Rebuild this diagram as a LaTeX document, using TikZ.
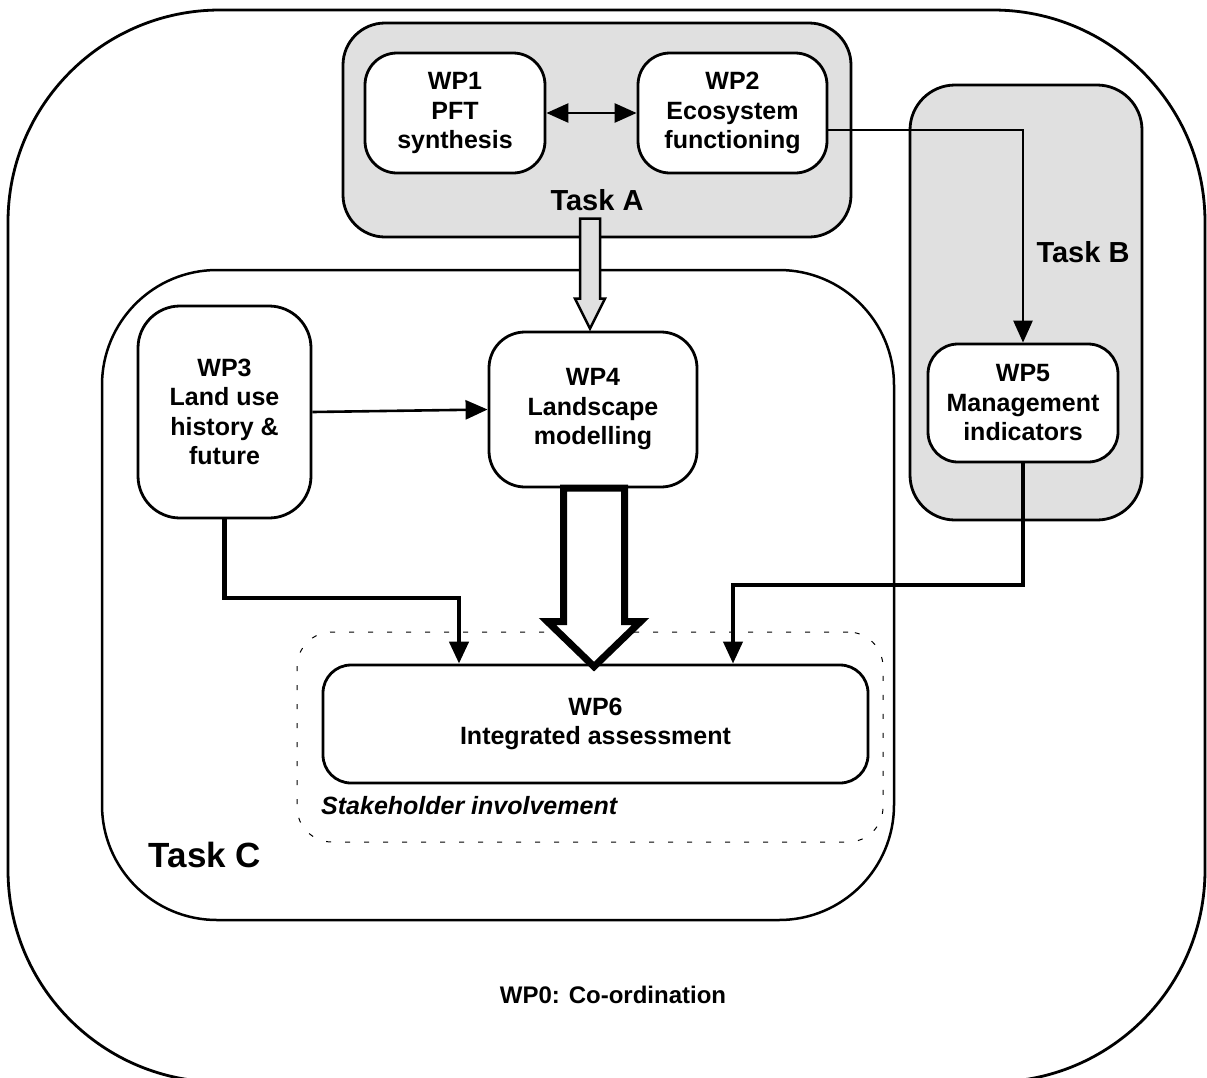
\documentclass[tikz,border=0pt]{standalone}
\usepackage{fontspec}
\setmainfont{Liberation Sans}
\usetikzlibrary{arrows.meta,calc}
\definecolor{taskgray}{HTML}{E0E0E0}
\newcommand\wpfont{\bfseries\fontsize{25}{29.5}\selectfont}
\newcommand\taskfont{\bfseries\fontsize{29}{34}\selectfont}
\begin{document}
\begin{tikzpicture}[x=1pt,y=-1pt,
  >={Triangle[length=22pt,width=19pt]},
  wp/.style={draw, line width=2.8pt, fill=white, rounded corners=32pt,
    align=center, inner sep=0pt, font=\wpfont},
  group/.style={draw, line width=2.8pt, fill=taskgray, inner sep=0pt},
  frame/.style={draw, line width=2.8pt, inner sep=0pt},
  link/.style={line width=2.6pt, ->},
  heavylink/.style={line width=4.4pt, ->}]
\useasboundingbox (0,0) rectangle (1207,1077);
\clip (0,0) rectangle (1207,1077);

% outer co-ordination frame and task areas
\node[frame, minimum width=1197pt, minimum height=1072pt, rounded corners=212pt] (wp0) at (606.5,546) {};
\node[frame, line width=2.5pt, minimum width=792pt, minimum height=650pt, rounded corners=115pt] (taskC) at (498,595) {};
\node[group, minimum width=508pt, minimum height=214pt, rounded corners=42pt] (taskA) at (597,130) {};
\node[group, minimum width=232pt, minimum height=435pt, rounded corners=45pt] (taskB) at (1026,302.5) {};
\node[draw, line width=1pt, dash pattern=on 5pt off 14pt, rounded corners=35pt,
  minimum width=586pt, minimum height=210pt, inner sep=0pt] (stake) at (590,737) {};

% work packages
\node[wp, minimum width=180pt, minimum height=120pt] (wp1) at (455,113) {WP1\\PFT\\synthesis};
\node[wp, minimum width=189pt, minimum height=120pt] (wp2) at (732.5,113) {WP2\\Ecosystem\\functioning};
\node[wp, minimum width=173pt, minimum height=212pt, rounded corners=42pt] (wp3) at (224.5,412) {WP3\\Land use\\history \&\\future};
\node[wp, minimum width=208pt, minimum height=155pt, rounded corners=36pt] (wp4) at (593,409.5) {WP4\\Landscape\\modelling};
\node[wp, minimum width=190pt, minimum height=118pt, rounded corners=30pt] (wp5) at (1023,403) {WP5\\Management\\indicators};
\node[wp, minimum width=545pt, minimum height=118pt, rounded corners=28pt] (wp6) at (595.5,724) {WP6\\Integrated assessment};

% connectors
\draw[line width=2.6pt, <->] (wp1) -- (wp2);
\draw[link] ($(wp2.east)+(0,17)$) -| (wp5.north);
\draw[link] (wp3.east) -- (wp4.west);
\coordinate (c3) at (459,598);
\draw[heavylink] (wp3.south) |- (c3) -- (c3 |- wp6.north);
\coordinate (c5) at (733,585);
\draw[heavylink, line width=4pt] (wp5.south) |- (c5) -- (c5 |- wp6.north);

% block arrow from Task A into WP4
\coordinate (ta) at ($(wp4.north)+(-3,-2)$);
\draw[line width=2.5pt, fill=taskgray, miter limit=10]
  ($(ta)+(-10,-110)$) -- ++(20,0) -- ++(0,80) -- ++(5,0) -- (ta)
  -- ++(-15,-30) -- ++(5,0) -- cycle;

% heavy block arrow from WP4 into WP6
\coordinate (tb) at ($(wp6.north)+(-1.5,3)$);
\draw[line width=7pt, fill=white, miter limit=10]
  ($(tb)+(-30.5,-178.5)$) -- ++(61,0) -- ++(0,133.5) -- ++(16,0) -- (tb)
  -- ++(-46.5,-45) -- ++(16,0) -- cycle;

% labels
\node[font=\taskfont] (lblA) at (597,200) {Task A};
\node[font=\taskfont] (lblB) at (1083,252) {Task B};
\node[font=\bfseries\fontsize{35}{40}\selectfont] (lblC) at (205,855) {Task C};
\node[font=\bfseries\itshape\fontsize{25}{29}\selectfont, anchor=west, inner sep=0pt] (lblS) at (321,806) {Stakeholder involvement};
\node[font=\bfseries\fontsize{24}{28}\selectfont] (lbl0) at (613,995) {WP0: Co-ordination};
\end{tikzpicture}
\end{document}
